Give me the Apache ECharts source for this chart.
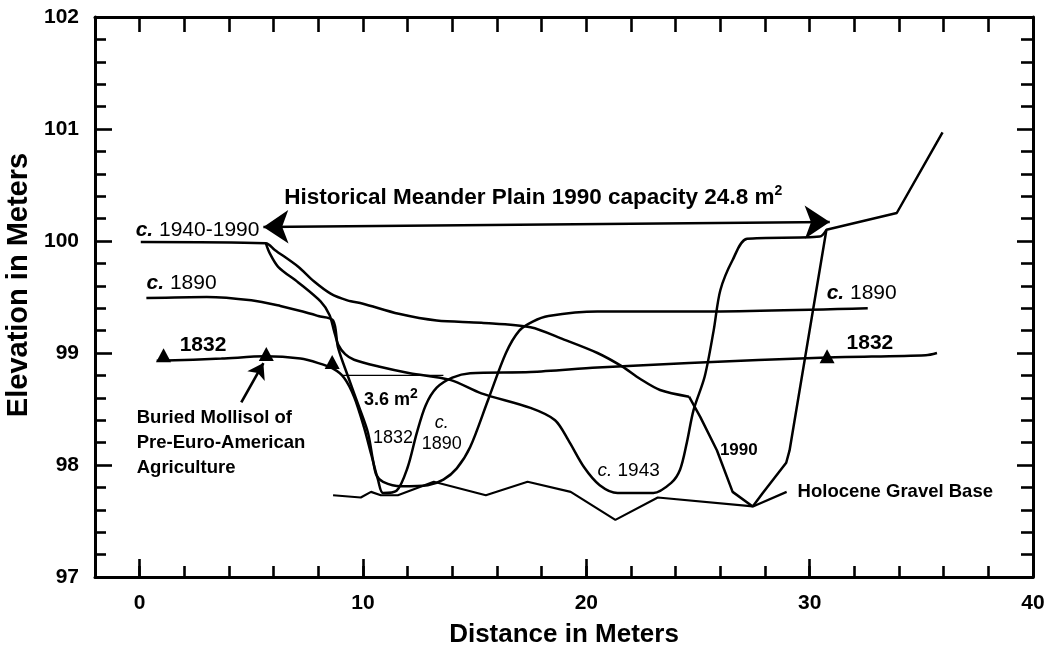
<!DOCTYPE html>
<html><head><meta charset="utf-8">
<script src="https://cdn.jsdelivr.net/npm/echarts@6/dist/echarts.min.js"></script>
<style>html,body{margin:0;padding:0;background:#fff}#c{width:1046px;height:654px}</style>
</head><body><div id="c"></div><script>
// ---- axis values ----
const xRange = [-2, 40];
const yRange = [97, 102];
const xTickLabels = [0, 10, 20, 30, 40];
const xMajorTicks = [0, 10, 20, 30, 40];

// ---- profiles [distance m, elevation m] ----
const profile1990Upper = [[0.05,99.99],[5.65,99.98],[6.05,99.92],[7.1,99.77],[7.8,99.64],[8.55,99.53],[9.3,99.47],[10.0,99.44],[11.6,99.35],[13.3,99.29],[15.3,99.27],[17.5,99.23],[19.0,99.12],[20.5,99.0],[21.6,98.88],[22.4,98.77],[23.3,98.67],[24.6,98.61]];
const profile1990Channel = [[24.6,98.61],[25.1,98.43],[25.85,98.13],[26.55,97.76],[27.45,97.63],[27.9,97.75],[28.95,98.02],[29.1,98.13],[30.75,100.1],[33.9,100.25],[35.95,100.97]];
const profile1943 = [[5.65,99.98],[5.8,99.9],[6.2,99.77],[7.1,99.63],[8.1,99.46],[8.5,99.34],[8.7,99.2],[8.9,99.07],[9.2,98.99],[9.6,98.94],[10.7,98.88],[12.1,98.82],[13.9,98.76],[15.3,98.64],[17.5,98.51],[18.6,98.4],[19.2,98.22],[19.9,97.98],[20.6,97.82],[21.4,97.75],[23.0,97.75],[23.8,97.84],[24.2,97.96],[24.5,98.2],[24.8,98.49],[25.3,98.79],[25.7,99.2],[26.0,99.56],[26.55,99.83],[27.2,100.02],[30.45,100.04],[30.75,100.1]];
const profile1890 = [[0.3,99.49],[3.0,99.5],[5.0,99.47],[6.3,99.42],[7.3,99.37],[8.0,99.33],[8.66,99.29],[8.88,99.05],[9.33,98.79],[9.82,98.52],[10.22,98.29],[10.45,98.04],[10.6,97.91],[10.9,97.85],[11.7,97.81],[12.9,97.82],[13.6,97.87],[14.2,97.97],[14.8,98.16],[15.6,98.58],[16.4,99.0],[17.0,99.2],[17.6,99.28],[18.3,99.33],[20.5,99.37],[24.6,99.37],[32.6,99.4]];
const profile1832 = [[0.76,98.93],[3.66,98.95],[5.6,98.97],[7.2,98.95],[8.0,98.91],[8.66,98.86],[9.15,98.78],[9.6,98.61],[10.04,98.34],[10.36,98.1],[10.67,97.87],[10.9,97.75],[11.5,97.77],[12.0,97.98],[12.4,98.28],[12.8,98.53],[13.3,98.69],[14.0,98.78],[14.8,98.82],[17.5,98.83],[20.5,98.87],[24.6,98.91],[30.8,98.96],[35.2,98.98],[35.7,99.0]];
const mollisolMarkers = [[1.07,98.98],[5.67,98.99],[8.62,98.92],[30.78,98.97]];
const gravelBase = [[8.66,97.73],[9.9,97.71],[10.36,97.76],[10.8,97.73],[11.56,97.73],[13.17,97.85],[15.5,97.73],[17.37,97.85],[19.3,97.76],[21.3,97.51],[23.2,97.71],[27.46,97.63]];
const gravelLeader = [[27.46,97.63],[28.97,97.76]];
const bankfull1832 = [[9.1,98.8],[13.6,98.8]];
const meanderArrow = [[5.54,100.125],[30.9,100.17]];
const mollisolArrow = [[4.55,98.56],[5.54,98.91]];

// ---- annotation texts and anchors ----
const annoText = [
  'Historical Meander Plain 1990 capacity 24.8 m{sup|2}',
  '{ib|c.} 1940-1990',
  '{ib|c.} 1890',
  '1832',
  '{ib|c.} 1890',
  '1832',
  'Buried Mollisol of\nPre-Euro-American\nAgriculture',
  '3.6 m{sup|2}',
  '1832',
  '{i|c.}\n1890',
  '{i|c.} 1943',
  '1990',
  'Holocene Gravel Base'
];
const annoPos = [[6.47,100.39],[-0.18,100.1],[0.31,99.62],[1.79,99.07],[30.76,99.53],[31.65,99.09],[-0.13,98.2],[10.04,98.58],[10.45,98.24],[13.53,98.28],[20.5,97.95],[25.98,98.13],[29.46,97.76]];

// ---- styling ----
const INK = '#000';
const FONT = '"Liberation Sans", Arial, Helvetica, sans-serif';
const annoStyle = [
  {s:22.5,w:'bold'},{s:21,w:'normal'},{s:21,w:'normal'},{s:21,w:'bold'},{s:21,w:'normal'},{s:21,w:'bold'},
  {s:18.5,w:'bold',lh:25},{s:18,w:'bold'},{s:18,w:'normal'},{s:18,w:'normal',center:true,lh:21},{s:19,w:'normal'},{s:17,w:'bold'},{s:18.5,w:'bold'}
];

const annoData = annoPos.map((p,i)=>{
  const st = annoStyle[i];
  return {
    value: p,
    label: {
      show:true, formatter: annoText[i],
      position: st.center ? 'inside' : 'right', distance: 0,
      align: st.center ? 'center' : 'left',
      fontSize: st.s, fontWeight: st.w, fontFamily: FONT, color: INK, opacity: 1,
      lineHeight: st.lh || Math.round(st.s*1.2),
      rich: {
        sup: {fontSize: 14, fontWeight: st.w, fontFamily: FONT, color: INK, padding:[0,0,12,0]},
        ib: {fontSize: st.s, fontWeight:'bold', fontStyle:'italic', fontFamily: FONT, color: INK},
        i: {fontSize: st.s, fontStyle:'italic', fontFamily: FONT, color: INK, lineHeight: st.lh || Math.round(st.s*1.2)}
      }
    }
  };
});

function lineSeries(data, smooth, width){
  return {type:'line', data, smooth: smooth, showSymbol:false, symbol:'none', silent:true,
    lineStyle:{color:INK, width: width||2.5, opacity:1}, z:3};
}

const axisLineStyle = {color:INK, width:3};
const tickStyle = {color:INK, width:2.6};

const option = {
  animation:false,
  backgroundColor:'#fff',
  grid:{left:95, right:13, top:17, bottom:77, containLabel:false, outerBoundsMode:'none'},
  xAxis:[
    {type:'value', min:xRange[0], max:xRange[1], interval:2, position:'bottom',
     axisLine:{show:true, onZero:false, lineStyle:axisLineStyle},
     axisTick:{show:true, inside:true, length:11, lineStyle:tickStyle},
     axisLabel:{show:true, customValues:xTickLabels, margin:16, fontSize:21, fontWeight:'bold', fontFamily:FONT, color:INK},
     splitLine:{show:false},
     name:'Distance in Meters', nameLocation:'middle', nameGap:45,
     nameTextStyle:{fontSize:26, fontWeight:'bold', fontFamily:FONT, color:INK}},
    {type:'value', min:xRange[0], max:xRange[1], position:'bottom',
     axisLine:{show:false},
     axisTick:{show:true, inside:true, length:18, customValues:xMajorTicks, lineStyle:tickStyle},
     axisLabel:{show:false}, splitLine:{show:false}},
    {type:'value', min:xRange[0], max:xRange[1], interval:2, position:'top',
     axisLine:{show:true, onZero:false, lineStyle:axisLineStyle},
     axisTick:{show:true, inside:true, length:15, lineStyle:tickStyle},
     axisLabel:{show:false}, splitLine:{show:false}}
  ],
  yAxis:[
    {type:'value', min:yRange[0], max:yRange[1], interval:1, position:'left',
     axisLine:{show:true, onZero:false, lineStyle:axisLineStyle},
     axisTick:{show:true, inside:true, length:17, lineStyle:tickStyle},
     minorTick:{show:true, splitNumber:5, length:11, lineStyle:tickStyle},
     axisLabel:{show:true, margin:16, fontSize:21, fontWeight:'bold', fontFamily:FONT, color:INK},
     splitLine:{show:false}, minorSplitLine:{show:false},
     name:'Elevation in Meters', nameLocation:'middle', nameGap:58, nameRotate:90,
     nameTextStyle:{fontSize:29, fontWeight:'bold', fontFamily:FONT, color:INK, padding:[0,0,0,24]}},
    {type:'value', min:yRange[0], max:yRange[1], interval:1, position:'right',
     axisLine:{show:true, onZero:false, lineStyle:axisLineStyle},
     axisTick:{show:true, inside:true, length:16, lineStyle:tickStyle},
     minorTick:{show:true, splitNumber:5, length:12, lineStyle:tickStyle},
     axisLabel:{show:false}, splitLine:{show:false}, minorSplitLine:{show:false}}
  ],
  series:[
    lineSeries(profile1990Upper, 0.3),
    lineSeries(profile1990Channel, false),
    lineSeries(profile1943, 0.3),
    lineSeries(profile1890, 0.3),
    lineSeries(profile1832, 0.3),
    Object.assign(lineSeries(gravelBase, false, 2.2), {
      markLine:{silent:true, animation:false, label:{show:false},
        lineStyle:{color:INK, width:2.6, type:'solid', opacity:1},
        data:[
          [{coord:meanderArrow[0], symbol:'arrow', symbolSize:25},{coord:meanderArrow[1], symbol:'arrow', symbolSize:25}],
          [{coord:mollisolArrow[0], symbol:'none'},{coord:mollisolArrow[1], symbol:'arrow', symbolSize:15}]
        ]}
    }),
    lineSeries(gravelLeader, false, 2.2),
    lineSeries(bankfull1832, false, 1.1),
    {type:'scatter', data:mollisolMarkers, symbol:'triangle', symbolSize:[15,14], silent:true,
     itemStyle:{color:INK, opacity:1}, z:4},
    {type:'scatter', data:annoData, symbolSize:0, silent:true, itemStyle:{opacity:1}, z:5}
  ]
};
const chart = echarts.init(document.getElementById('c'), null, {renderer:'canvas'});
chart.setOption(option);
</script></body></html>
